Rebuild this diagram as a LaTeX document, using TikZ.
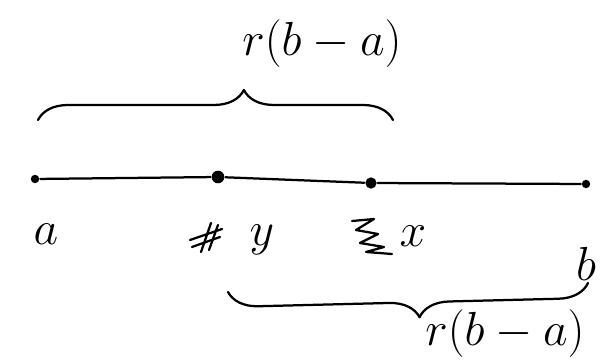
\RequirePackage{fix-cm}
\documentclass[tikz,border=0pt]{standalone}
\usetikzlibrary{decorations.pathreplacing}
\begin{document}
\begin{tikzpicture}[x=0.025cm,y=-0.025cm,line width=1.6pt,line cap=round,line join=round,
    ponto/.style={circle,fill,inner sep=0pt,minimum size=7pt},
    rotulo/.style={font=\fontsize{34}{40}\selectfont},
    chave/.style={decorate,decoration={brace,amplitude=0.75cm,aspect=#1}}]
  \useasboundingbox (0,0) rectangle (600,360);

  % Segmento [a,b] com os pontos y e x marcados.
  \node[ponto,minimum size=6pt] (a) at (35,179) {};
  \node[ponto,minimum size=9pt] (y) at (218,177) {};
  \node[ponto,minimum size=8pt] (x) at (371,183) {};
  \node[ponto,minimum size=6pt] (b) at (586,184) {};
  \draw (a) -- (y) -- (x) -- (b);

  % Rótulos dos pontos, abaixo da reta.
  \node[rotulo] (la) at (46,234) {$a$};
  \node[rotulo] (ly) at (262,240) {$y$};
  \node[rotulo] (lx) at (413,236) {$x$};
  \node[rotulo] (lb) at (586,264) {$b$};

  % Rabiscos (letras riscadas) antes de y e de x.
  \draw (190,240) -- (222,229);
  \draw (192,247) -- (220,237);
  \draw (201,252) -- (211,223);
  \draw (209,250) -- (218,225);
  \draw (352,221) -- (374,219) -- (356,230) -- (378,234) -- (360,243)
    -- (384,247) -- (366,252) -- (392,254);

  % Chave de cima: de a até pouco depois de x.
  \coordinate (c1) at (38,120);
  \coordinate (c2) at (393,120);
  \draw[chave=0.58] (c1) -- (c2);
  \node[rotulo] (lr1) at (322,44) {$r(b-a)$};

  % Chave de baixo: de y até b.
  \coordinate (c3) at (588,283);
  \coordinate (c4) at (228,292);
  \draw[chave=0.47] (c3) -- (c4);
  \node[rotulo] (lr2) at (505,334) {$r(b-a)$};
\end{tikzpicture}
\end{document}
